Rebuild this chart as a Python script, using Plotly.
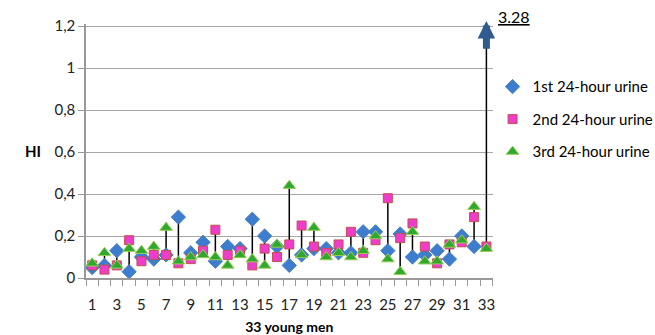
import plotly.graph_objects as go

men = list(range(1, 34))
first = [0.05, 0.06, 0.13, 0.03, 0.10, 0.09, 0.11, 0.29, 0.12, 0.17, 0.08, 0.15, 0.14, 0.28, 0.20, 0.15, 0.06,
         0.11, 0.14, 0.14, 0.12, 0.12, 0.22, 0.22, 0.13, 0.21, 0.10, 0.11, 0.13, 0.09, 0.20, 0.15, 3.28]
second = [0.06, 0.04, 0.06, 0.18, 0.08, 0.11, 0.11, 0.07, 0.09, 0.13, 0.23, 0.11, 0.13, 0.06, 0.14, 0.10, 0.16,
          0.25, 0.15, 0.12, 0.16, 0.22, 0.12, 0.18, 0.38, 0.19, 0.26, 0.15, 0.07, 0.16, 0.17, 0.29, 0.15]
third = [0.07, 0.12, 0.06, 0.14, 0.13, 0.15, 0.24, 0.08, 0.10, 0.11, 0.10, 0.06, 0.11, 0.09, 0.06, 0.16, 0.44,
         0.11, 0.24, 0.10, 0.12, 0.10, 0.13, 0.20, 0.09, 0.03, 0.22, 0.08, 0.08, 0.16, 0.18, 0.34, 0.14]
y_ticks = [0, 0.2, 0.4, 0.6, 0.8, 1.0, 1.2]
y_tick_text = ["0", "0,2", "0,4", "0,6", "0,8", "1", "1,2"]
x_ticks = list(range(1, 34, 2))
series_names = ["1st 24-hour urine", "2nd 24-hour urine", "3rd 24-hour urine"]

FONT = "Lato, 'Open Sans', sans-serif"

fig = go.Figure()

# high-low lines
lx, ly = [], []
for i, a, b, c in zip(men, first, second, third):
    lx += [i, i, None]
    ly += [min(a, b, c), max(a, b, c), None]
fig.add_trace(go.Scatter(x=lx, y=ly, mode="lines", line=dict(color="black", width=1.5),
                         showlegend=False, hoverinfo="skip"))

fig.add_trace(go.Scatter(x=men, y=first, mode="markers", name=series_names[0], legendgroup="a",
                         marker=dict(symbol="diamond", size=11, color="#3C7DD0",
                                     line=dict(color="#4A7EBB", width=1))))
fig.add_trace(go.Scatter(x=men, y=second, mode="markers", name=series_names[1], legendgroup="b",
                         marker=dict(symbol="square", size=9, color="#F03CCB",
                                     line=dict(color="#C0504D", width=1))))
fig.add_trace(go.Scatter(x=men, y=third, mode="markers", name=series_names[2], legendgroup="c",
                         marker=dict(symbol="triangle-up", size=11, color="#2DAA2D",
                                     line=dict(color="#9BCB59", width=1))))

# arrow for off-scale value at man 33
fig.add_annotation(x=33, y=1.224, ax=33, ay=1.085, xref="x", yref="y", axref="x", ayref="y",
                   showarrow=True, arrowhead=2, arrowsize=0.5, arrowwidth=7, arrowcolor="#2F5B8E",
                   text="")
fig.add_annotation(x=33, y=1.028, xref="x", yref="paper", xanchor="left", yanchor="middle", xshift=10,
                   text="<span style='text-decoration:underline'>" + f"{max(first):.2f}" + "</span>",
                   showarrow=False, font=dict(family=FONT, size=16, color="black"))
fig.add_annotation(x=-0.156, y=0.5, xref="paper", yref="paper", text="<b>HI</b>", showarrow=False,
                   font=dict(family=FONT, size=15, color="black"))

fig.update_layout(
    width=655, height=335,
    margin=dict(l=86, r=158, t=24, b=57),
    plot_bgcolor="white", paper_bgcolor="white",
    font=dict(family=FONT, size=15, color="#222"),
    legend=dict(xref="container", yref="container", x=0.752, y=0.79, xanchor="left", yanchor="top",
                tracegroupgap=10, traceorder="grouped", font=dict(family=FONT, size=15, color="black"),
                itemwidth=30, bgcolor="rgba(0,0,0,0)"),
    xaxis=dict(range=[0.5, 33.5], tickvals=x_ticks, ticktext=[str(v) for v in x_ticks],
               showgrid=False, zeroline=False, showline=True, linecolor="#999", linewidth=1.5,
               ticks="", ticklen=0, automargin=False, ticklabelstandoff=12,
               minor=dict(tickvals=[i + 0.5 for i in range(0, 34)], ticks="outside", ticklen=6,
                          tickcolor="#999", showgrid=False),
               title=dict(text="<b>33 young men</b>", font=dict(family=FONT, size=14, color="black"),
                          standoff=12)),
    yaxis=dict(range=[0, 1.21], tickvals=y_ticks, ticktext=y_tick_text, showgrid=True,
               gridcolor="#A6A6A6", gridwidth=1.2, zeroline=False, showline=True, linecolor="#999",
               linewidth=1.5, ticks="outside", ticklen=6, tickcolor="#999", automargin=False),
)

fig.write_html("out.html", config={"displayModeBar": False},
               post_script="document.body.style.margin='0';")
